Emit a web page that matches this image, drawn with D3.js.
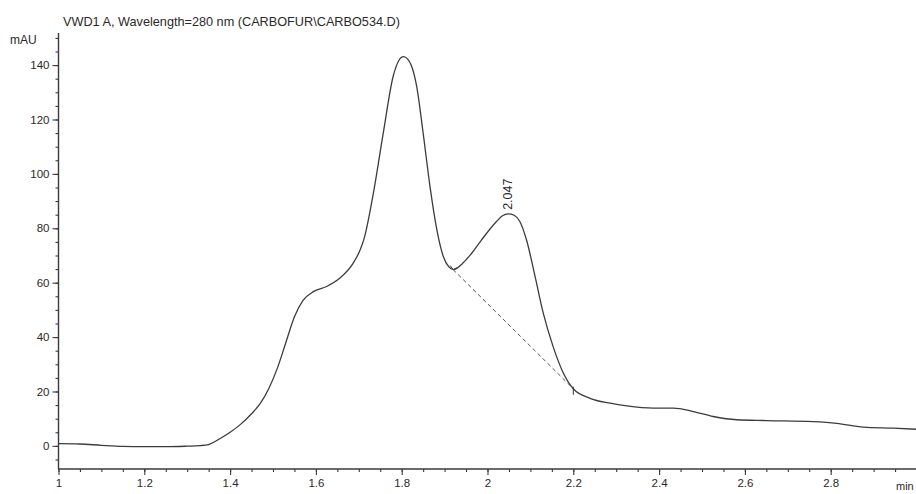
<!DOCTYPE html>
<html>
  <head>
    <meta charset="utf-8">
    <title>Chromatogram</title>
    <script src="https://d3js.org/d3.v7.min.js"></script>
    <style>
      body { margin: 0; background: #fff; }
      text { font-family: "Liberation Sans", Arial, sans-serif; fill: #2a2a2a; }
    </style>
  </head>
  <body>
    <div id="my_dataviz"></div>
    <script>
      // signal: retention time (min) and absorbance (mAU)
      var times = [1.00, 1.05, 1.10, 1.15, 1.20, 1.25, 1.30, 1.33, 1.35, 1.376, 1.40, 1.425, 1.45, 1.47, 1.49,
                   1.51, 1.53, 1.55, 1.57, 1.594, 1.625, 1.656, 1.687, 1.703, 1.712, 1.734, 1.757, 1.78,
                   1.793, 1.804, 1.814, 1.822, 1.835, 1.85, 1.866, 1.882, 1.897, 1.91, 1.92, 1.944, 1.96, 1.985,
                   2.021, 2.035, 2.049, 2.062, 2.075, 2.091, 2.111, 2.13, 2.153, 2.177, 2.20, 2.239, 2.286, 2.325,
                   2.387, 2.433, 2.48, 2.526, 2.581, 2.651, 2.759, 2.814, 2.876, 2.946, 3.00];
      var mAU   = [0.8, 0.7, 0.2, -0.2, -0.3, -0.3, -0.1, 0.1, 0.5, 2.6, 5.0, 8.0, 11.8, 15.5, 21.0,
                   28.5, 38.0, 47.5, 53.5, 56.7, 58.6, 61.7, 67.2, 72.0, 76.0, 92.9, 115.0, 135.8,
                   141.6, 143.1, 142.2, 140.0, 132.1, 115.0, 95.3, 79.4, 69.6, 65.8, 64.8, 67.4, 70.2, 75.5,
                   82.5, 84.6, 85.3, 84.8, 82.6, 75.7, 62.2, 48.8, 36.5, 26.7, 21.0, 17.5, 15.7, 14.7,
                   13.9, 13.9, 12.6, 10.8, 9.6, 9.3, 8.9, 8.3, 6.9, 6.5, 6.1];

      // integration baseline under the second peak (start, end)
      var baseTimes = [1.92, 2.20];
      var baseMAU = [64.8, 21.0];

      // peak annotation
      var peakTime = 2.049;
      var peakLabel = "2.047";

      // axis ticks
      var yTickValues = [0, 20, 40, 60, 80, 100, 120, 140];
      var yTickLabels = ["0", "20", "40", "60", "80", "100", "120", "140"];
      var xTickValues = [1, 1.2, 1.4, 1.6, 1.8, 2, 2.2, 2.4, 2.6, 2.8];
      var xTickLabels = ["1", "1.2", "1.4", "1.6", "1.8", "2", "2.2", "2.4", "2.6", "2.8"];

      var title = "VWD1 A, Wavelength=280 nm (CARBOFUR\\CARBO534.D)";

      var width = 916, height = 494;

      var data = times.map(function(t, i) { return {t: t, v: mAU[i]}; });

      // scales
      var x = d3.scaleLinear().domain([1, 3]).range([58.5, 916.5]);
      var y = d3.scaleLinear().domain([-8.5, 151.8]).range([469, 33]);

      var svg = d3.select("#my_dataviz")
        .append("svg")
        .attr("width", width)
        .attr("height", height);

      var axisColor = "#3a3a3a";

      // title
      svg.append("text")
        .attr("x", 63)
        .attr("y", 26)
        .style("font-size", "12.7px")
        .text(title);

      // Y axis: minor ticks every 5, labelled every 20
      svg.append("g")
        .attr("transform", "translate(" + x(1) + ",0)")
        .call(d3.axisLeft(y).tickValues(d3.range(-5, 151, 5)).tickSize(3).tickFormat(""))
        .call(function(g) { g.select(".domain").remove(); });

      var yAxis = svg.append("g")
        .attr("transform", "translate(" + x(1) + ",0)")
        .call(d3.axisLeft(y).tickValues(yTickValues).tickSize(6).tickPadding(3)
          .tickFormat(function(d, i) { return yTickLabels[i]; }));
      yAxis.select(".domain").remove();
      yAxis.selectAll("text").style("font-size", "11.5px");

      svg.append("line")
        .attr("x1", x(1)).attr("x2", x(1))
        .attr("y1", y.range()[1]).attr("y2", y.range()[0])
        .attr("stroke", axisColor).attr("stroke-width", 1.4);

      // X axis: minor ticks every 0.05, labelled every 0.2
      svg.append("g")
        .attr("transform", "translate(0," + y.range()[0] + ")")
        .call(d3.axisBottom(x).tickValues(d3.range(0, 41).map(function(i) { return 1 + i * 0.05; }))
          .tickSize(3).tickFormat(""))
        .call(function(g) { g.select(".domain").remove(); });

      var xAxis = svg.append("g")
        .attr("transform", "translate(0," + y.range()[0] + ")")
        .call(d3.axisBottom(x).tickValues(xTickValues).tickSize(6).tickPadding(4)
          .tickFormat(function(d, i) { return xTickLabels[i]; }));
      xAxis.select(".domain").remove();
      xAxis.selectAll("text").style("font-size", "11.5px");

      svg.append("line")
        .attr("x1", x(1)).attr("x2", x(3))
        .attr("y1", y.range()[0]).attr("y2", y.range()[0])
        .attr("stroke", axisColor).attr("stroke-width", 1.4);

      svg.selectAll(".tick line").attr("stroke", axisColor).attr("stroke-width", 1.1);

      // units
      svg.append("text")
        .attr("x", 10).attr("y", 44)
        .style("font-size", "12px")
        .text("mAU");
      svg.append("text")
        .attr("x", 896).attr("y", 490)
        .style("font-size", "11px")
        .text("min");

      // baseline under peak
      svg.append("line")
        .attr("x1", x(baseTimes[0])).attr("y1", y(baseMAU[0]))
        .attr("x2", x(baseTimes[1])).attr("y2", y(baseMAU[1]))
        .attr("stroke", "#555")
        .attr("stroke-width", 1)
        .attr("stroke-dasharray", "4,3");

      // start / end markers on the baseline
      svg.append("path")
        .attr("d", "M" + (x(baseTimes[0]) - 3) + "," + (y(baseMAU[0]) - 4) +
                   "L" + x(baseTimes[0]) + "," + y(baseMAU[0]) +
                   "L" + (x(baseTimes[0]) + 4) + "," + (y(baseMAU[0]) - 2))
        .attr("fill", "none").attr("stroke", "#333").attr("stroke-width", 1);
      svg.append("line")
        .attr("x1", x(baseTimes[1])).attr("y1", y(baseMAU[1]) - 2)
        .attr("x2", x(baseTimes[1])).attr("y2", y(baseMAU[1]) + 6)
        .attr("stroke", "#333").attr("stroke-width", 1);

      // the trace
      svg.append("path")
        .datum(data)
        .attr("fill", "none")
        .attr("stroke", "#3c3c3c")
        .attr("stroke-width", 1.3)
        .attr("d", d3.line()
          .x(function(d) { return x(d.t); })
          .y(function(d) { return y(d.v); })
          .curve(d3.curveMonotoneX));

      // retention time label, rotated above the apex
      var peakV = mAU[times.indexOf(peakTime)];
      svg.append("text")
        .attr("transform", "translate(" + (x(peakTime) + 3) + "," + (y(peakV) - 4) + ") rotate(-90)")
        .style("font-size", "12.5px")
        .text(peakLabel);
    </script>
  </body>
</html>
